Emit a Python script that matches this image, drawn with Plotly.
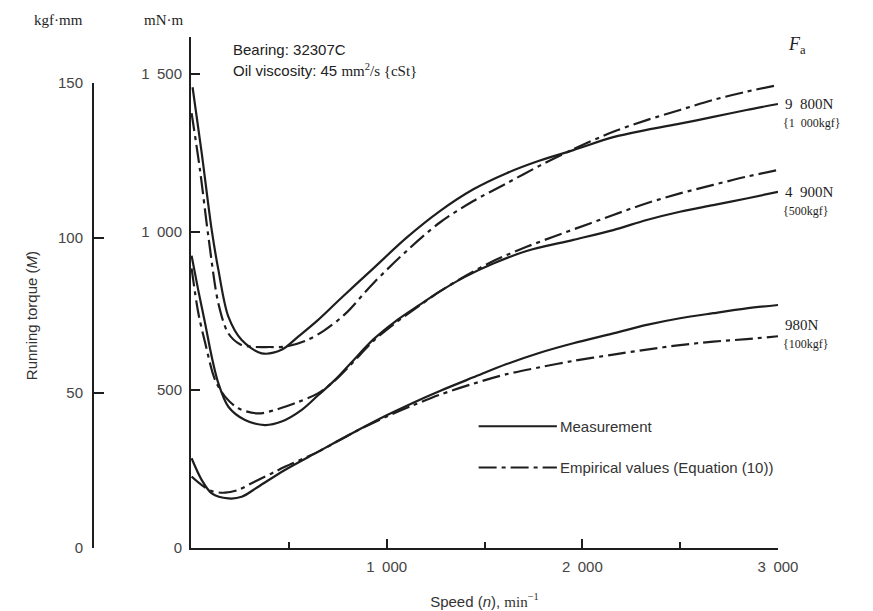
import plotly.graph_objects as go

# ---------------- data ----------------
n_meas_9800 = [8, 55, 106, 140, 191, 259, 361, 463, 548, 650, 761, 932, 1102, 1272, 1443, 1613, 1783, 1954, 2158, 2329, 2499, 2669, 2839, 3000]
M_meas_9800 = [1458, 1249, 1006, 880, 732, 658, 616, 627, 669, 722, 787, 885, 982, 1066, 1135, 1186, 1226, 1259, 1300, 1323, 1343, 1364, 1386, 1405]

n_emp_9800 = [3, 46, 89, 140, 191, 250, 310, 400, 480, 583, 680, 787, 932, 1102, 1272, 1443, 1613, 1783, 1954, 2158, 2329, 2499, 2669, 2839, 3000]
M_emp_9800 = [1376, 1196, 985, 774, 679, 645, 637, 636, 637, 655, 688, 740, 838, 940, 1030, 1098, 1154, 1210, 1262, 1317, 1354, 1386, 1418, 1444, 1465]

n_meas_4900 = [3, 37, 72, 106, 140, 191, 276, 378, 463, 566, 651, 736, 821, 932, 1040, 1170, 1272, 1400, 1545, 1715, 1954, 2158, 2329, 2499, 2669, 2839, 3000]
M_meas_4900 = [925, 816, 711, 605, 521, 447, 405, 389, 400, 437, 484, 532, 588, 660, 715, 770, 812, 858, 900, 940, 975, 1006, 1038, 1064, 1085, 1106, 1127]

n_emp_4900 = [3, 37, 72, 123, 174, 242, 344, 446, 548, 651, 736, 821, 932, 1040, 1170, 1272, 1400, 1545, 1715, 1852, 2039, 2158, 2329, 2499, 2669, 2839, 3000]
M_emp_4900 = [885, 745, 650, 532, 479, 442, 426, 440, 462, 490, 530, 583, 655, 710, 768, 812, 860, 908, 953, 985, 1027, 1054, 1091, 1122, 1149, 1175, 1196]

n_meas_980 = [3, 55, 106, 191, 259, 344, 480, 651, 838, 1000, 1136, 1272, 1443, 1613, 1783, 1954, 2158, 2329, 2499, 2669, 2839, 3000]
M_meas_980 = [284, 215, 173, 157, 162, 194, 247, 305, 368, 420, 460, 497, 540, 582, 618, 648, 679, 706, 727, 743, 758, 769]

n_emp_980 = [3, 55, 106, 174, 242, 310, 412, 480, 651, 838, 1000, 1136, 1272, 1443, 1613, 1783, 1954, 2158, 2329, 2499, 2669, 2839, 3000]
M_emp_980 = [226, 199, 180, 175, 184, 205, 236, 257, 305, 368, 416, 452, 485, 520, 550, 572, 592, 612, 628, 642, 653, 661, 670]

load_labels = [("9\u2002800N", "{1\u2002000kgf}"), ("4\u2002900N", "{500kgf}"), ("980N", "{100kgf}")]
label_M = [1405, 1127, 705]

x_ticks = [1000, 2000, 3000]
x_ticktext = ["1\u2002000", "2\u2002000", "3\u2002000"]
x_minor = [500, 1500, 2500]
y_ticks = [0, 500, 1000, 1500]
y_ticktext = ["0", "500", "1\u2002000", "1\u2002500"]
kgf_ticks = [0, 50, 100, 150]

# ---------------- layout geometry ----------------
W, H = 873, 611
ML, MR, MT, MB = 60, 95, 37, 63
PW, PH = W - ML - MR, H - MT - MB
XMAX, YMAX = 3000, 1617
KGF_TO_MNM = 9.80665
x_dom0 = (191 - ML) / PW

def px(x):
    return (x - ML) / PW

def py(y):
    return (H - MB - y) / PH

INK = "#1e1e1e"
SANS = "Liberation Sans, Arial, sans-serif"
SERIF = "Liberation Serif, Times New Roman, serif"
DASHDOT = "18px,5px,4px,5px"

fig = go.Figure()
curves = [
    (n_meas_9800, M_meas_9800, "solid", "Measurement 9 800N"),
    (n_emp_9800, M_emp_9800, DASHDOT, "Empirical 9 800N"),
    (n_meas_4900, M_meas_4900, "solid", "Measurement 4 900N"),
    (n_emp_4900, M_emp_4900, DASHDOT, "Empirical 4 900N"),
    (n_meas_980, M_meas_980, "solid", "Measurement 980N"),
    (n_emp_980, M_emp_980, DASHDOT, "Empirical 980N"),
]
for xs, ys, dash, name in curves:
    fig.add_trace(go.Scatter(x=xs, y=ys, mode="lines", name=name,
                             line=dict(color=INK, width=2.2, dash=dash, shape="spline", smoothing=0.9),
                             showlegend=False))

# invisible trace to bind the kgf·mm axis
fig.add_trace(go.Scatter(x=[0, 0], y=[kgf_ticks[0], kgf_ticks[-1]], yaxis="y2", mode="markers",
                         marker=dict(opacity=0), showlegend=False, hoverinfo="skip"))

# legend drawn as in the reference
for xs, ys, dash, label in [([1470, 1870], [385, 385], "solid", "Measurement"),
                            ([1470, 1870], [255, 255], DASHDOT, "Empirical values (Equation (10))")]:
    fig.add_trace(go.Scatter(x=xs, y=ys, mode="lines", line=dict(color=INK, width=2, dash=dash),
                             showlegend=False, hoverinfo="skip"))
    fig.add_annotation(x=xs[1], y=ys[1], text=label, showarrow=False, xanchor="left", yanchor="middle",
                       xshift=1, font=dict(family=SANS, size=15, color="#333"))

axis_common = dict(showgrid=False, zeroline=False, showline=True, linecolor=INK, linewidth=2,
                   ticks="inside", tickcolor=INK, tickwidth=1.5,
                   tickfont=dict(family=SANS, size=15, color="#444"))

fig.update_layout(
    width=W, height=H, margin=dict(l=ML, r=MR, t=MT, b=MB),
    paper_bgcolor="white", plot_bgcolor="rgba(0,0,0,0)", showlegend=False,
    xaxis=dict(domain=[x_dom0, 1], range=[0, XMAX], tickvals=x_ticks, ticktext=x_ticktext,
               ticklen=9, ticklabelstandoff=4, automargin=False,
               minor=dict(tickvals=x_minor, ticklen=6, ticks="inside", tickcolor=INK, tickwidth=1.5),
               title=dict(text="Speed (<i>n</i>), <span style='font-family:Liberation Serif'>min<sup>\u22121</sup></span>",
                          font=dict(family=SANS, size=15, color="#333"), standoff=22),
               **axis_common),
    yaxis=dict(range=[0, YMAX], tickvals=y_ticks, ticktext=y_ticktext, ticklen=9,
               ticklabelstandoff=4, automargin=False, **axis_common),
    yaxis2=dict(domain=[0, kgf_ticks[-1] * KGF_TO_MNM / YMAX], range=[0, kgf_ticks[-1]],
                anchor="free", position=px(93), side="left", tickvals=kgf_ticks, ticklen=10,
                ticklabelstandoff=6, automargin=False,
                title=dict(text="Running torque (<i>M</i>)", font=dict(family=SANS, size=15, color="#333"),
                           standoff=16),
                **axis_common),
)

def note(x, y, text, font, xanchor="center"):
    fig.add_annotation(x=px(x), y=py(y), xref="paper", yref="paper", text=text, showarrow=False,
                       xanchor=xanchor, yanchor="middle", font=font)

# unit labels
note(58, 20, "kgf\u00b7mm", dict(family=SERIF, size=15, color=INK))
note(163, 20, "mN\u00b7m", dict(family=SERIF, size=15, color=INK))

# condition text
note(231, 49, "Bearing: 32307C", dict(family=SANS, size=15, color="#222"), "left")
note(231, 70, "Oil viscosity: 45 <span style='font-family:Liberation Serif'>mm<sup>2</sup>/s \u007bcSt\u007d</span>",
     dict(family=SANS, size=15, color="#222"), "left")

# F_a header and load labels
note(797, 45, "<i>F</i><sub>a</sub>", dict(family=SERIF, size=18, color=INK))
for (main, sub), m in zip(load_labels, label_M):
    fig.add_annotation(x=1, y=m, xref="paper", yref="y", text=main, showarrow=False, xanchor="left",
                       yanchor="middle", xshift=5, font=dict(family=SERIF, size=15, color=INK))
    fig.add_annotation(x=1, y=m, xref="paper", yref="y", text=sub, showarrow=False, xanchor="left",
                       yanchor="middle", xshift=3, yshift=-19, font=dict(family=SERIF, size=12, color=INK))

fig.write_html("out.html", config={"displayModeBar": False},
               post_script="document.body.style.margin='0px';")
